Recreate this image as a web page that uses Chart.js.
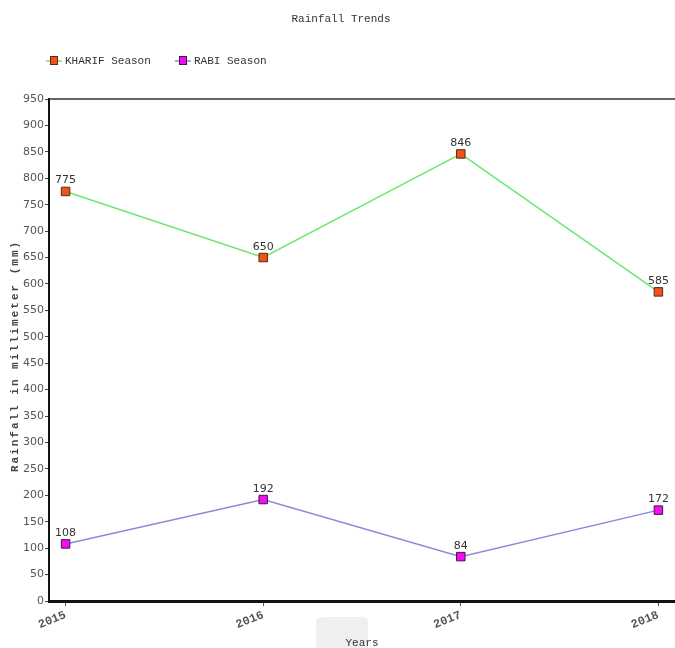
<!DOCTYPE html>
<html>
<head>
<meta charset="utf-8">
<script src="https://cdn.jsdelivr.net/npm/chart.js@4.4.1/dist/chart.umd.min.js"></script>
<style>
  html, body { margin: 0; padding: 0; background: #ffffff; overflow: hidden; }
  #wrap { position: relative; width: 675px; height: 648px; }
</style>
</head>
<body>
<div id="wrap"><canvas id="chart" width="675" height="648"></canvas></div>
<script>
// Rainfall per season, by year (mm)
const years = [2015, 2016, 2017, 2018];
const kharif = [775, 650, 846, 585];
const rabi = [108, 192, 84, 172];
const seriesNames = ['KHARIF Season', 'RABI Season'];
const yTicksMax = 950;
const yTicksStep = 50;
const yTitle = 'Rainfall in millimeter (mm)';

const MONO = '"Liberation Mono", "DejaVu Sans Mono", monospace';
const SANS = '"DejaVu Sans", "Liberation Sans", sans-serif';
const X_PAD = 0.084; // breathing room either side of the first/last year

const seriesStyle = [
  { line: '#6be86b', fill: '#f0521e', border: '#5a2a10' },
  { line: '#8a8ad8', fill: '#ee10ee', border: '#4a1050' }
];

const toPoints = vals => years.map((yr, i) => ({ x: yr, y: vals[i] }));

// Title, legend, top frame line, value labels, y title and the axis-title backdrop
const decorations = {
  id: 'decorations',
  beforeDraw(chart) {
    const { ctx } = chart;
    const xs = chart.scales.x;
    const cx = (xs.left + xs.right) / 2;
    ctx.save();
    ctx.fillStyle = '#efefef';
    const x = cx - 46, y = 617, w = 52, h = 40, r = 6;
    ctx.beginPath();
    ctx.moveTo(x + r, y);
    ctx.lineTo(x + w - r, y);
    ctx.quadraticCurveTo(x + w, y, x + w, y + r);
    ctx.lineTo(x + w, y + h);
    ctx.lineTo(x, y + h);
    ctx.lineTo(x, y + r);
    ctx.quadraticCurveTo(x, y, x + r, y);
    ctx.fill();
    ctx.restore();
  },
  beforeDatasetsDraw(chart) {
    const { ctx, chartArea } = chart;
    ctx.save();
    ctx.strokeStyle = '#333333';
    ctx.lineWidth = 1.5;
    ctx.beginPath();
    ctx.moveTo(chartArea.left, chartArea.top);
    ctx.lineTo(chartArea.right, chartArea.top);
    ctx.stroke();
    ctx.restore();
  },
  afterDraw(chart) {
    const { ctx, chartArea } = chart;
    ctx.save();
    // chart title
    ctx.fillStyle = '#333333';
    ctx.font = '11px ' + MONO;
    ctx.textAlign = 'center';
    ctx.textBaseline = 'middle';
    ctx.fillText('Rainfall Trends', 341, 19);

    // legend: short line through a square marker
    const legendX = [46, 175];
    chart.data.datasets.forEach((ds, i) => {
      const st = seriesStyle[i];
      const x0 = legendX[i];
      const y = 61;
      ctx.strokeStyle = st.line;
      ctx.lineWidth = 1.5;
      ctx.beginPath();
      ctx.moveTo(x0, y);
      ctx.lineTo(x0 + 16, y);
      ctx.stroke();
      ctx.fillStyle = st.fill;
      ctx.strokeStyle = st.border;
      ctx.lineWidth = 1;
      ctx.fillRect(x0 + 4.5, y - 4.5, 7, 8);
      ctx.strokeRect(x0 + 4.5, y - 4.5, 7, 8);
      ctx.fillStyle = '#333333';
      ctx.font = '11px ' + MONO;
      ctx.textAlign = 'left';
      ctx.fillText(ds.label, x0 + 19, y);
    });

    // y-axis title, letter-spaced
    ctx.save();
    ctx.translate(15, (chartArea.top + chartArea.bottom) / 2 + 6);
    ctx.rotate(-Math.PI / 2);
    ctx.font = 'bold 11px ' + MONO;
    ctx.letterSpacing = '2px';
    ctx.fillStyle = '#444444';
    ctx.textAlign = 'center';
    ctx.textBaseline = 'middle';
    ctx.fillText(yTitle, 0, 0);
    ctx.restore();

    // value labels above each marker
    ctx.font = '11px ' + SANS;
    ctx.fillStyle = '#333333';
    ctx.textAlign = 'center';
    ctx.textBaseline = 'alphabetic';
    chart.data.datasets.forEach((ds, i) => {
      const meta = chart.getDatasetMeta(i);
      meta.data.forEach((pt, j) => {
        ctx.fillText(String(ds.data[j].y), pt.x, pt.y - 8);
      });
    });
    ctx.restore();
  }
};

new Chart(document.getElementById('chart'), {
  type: 'line',
  data: {
    datasets: [0, 1].map(i => ({
      label: seriesNames[i],
      data: toPoints(i === 0 ? kharif : rabi),
      borderColor: seriesStyle[i].line,
      backgroundColor: seriesStyle[i].fill,
      pointBorderColor: seriesStyle[i].border,
      pointBackgroundColor: seriesStyle[i].fill,
      borderWidth: 1.5,
      pointStyle: 'rect',
      pointRadius: 6,
      pointBorderWidth: 1,
      tension: 0
    }))
  },
  options: {
    responsive: false,
    animation: false,
    layout: { autoPadding: false, padding: { top: 99, left: 0, right: 0, bottom: 0 } },
    plugins: {
      legend: { display: false },
      title: { display: false },
      tooltip: { enabled: false }
    },
    scales: {
      x: {
        type: 'linear',
        min: years[0] - X_PAD,
        max: years[years.length - 1] + X_PAD,
        grid: { drawOnChartArea: false, drawTicks: true, tickLength: 5, color: '#555555' },
        border: { display: true, color: '#111111', width: 3 },
        afterBuildTicks(scale) {
          scale.ticks = years.map(v => ({ value: v }));
        },
        afterFit(scale) {
          scale.height = 47;
          scale.paddingRight = 0;
          scale.paddingLeft = 0;
        },
        ticks: {
          autoSkip: false,
          minRotation: 22,
          maxRotation: 22,
          padding: 2,
          color: '#555555',
          font: { family: MONO, size: 12, weight: 'bold' },
          callback: v => String(v)
        },
        title: {
          display: true,
          text: 'Years',
          color: '#333333',
          font: { family: MONO, size: 11 },
          padding: { top: 0, bottom: -2 }
        }
      },
      y: {
        min: 0,
        max: yTicksMax,
        grid: { drawOnChartArea: false, drawTicks: true, tickLength: 4, color: '#444444' },
        border: { display: true, color: '#111111', width: 2 },
        afterFit(scale) { scale.width = 49; },
        ticks: {
          stepSize: yTicksStep,
          padding: 1,
          color: '#555555',
          font: { family: SANS, size: 11 }
        }
      }
    }
  },
  plugins: [decorations]
});
</script>
</body>
</html>
